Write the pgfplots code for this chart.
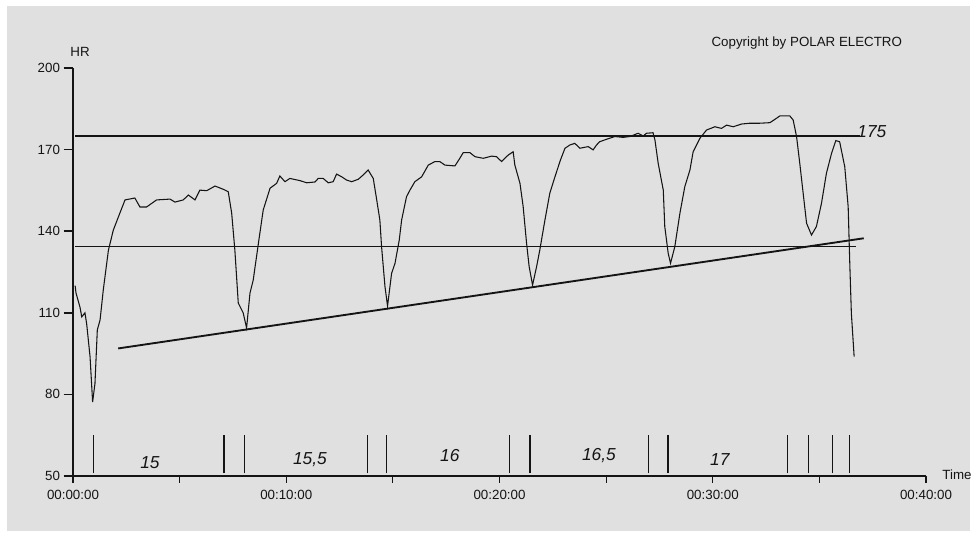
\documentclass[border=0pt]{standalone}
\usepackage{pgfplots}
\pgfplotsset{compat=1.18}
\usepackage{fontspec}
\setmainfont{Liberation Sans}
\definecolor{bg}{RGB}{224,224,224}
\definecolor{ink}{RGB}{20,20,20}
\begin{document}
\begin{tikzpicture}[x=0.75pt,y=0.75pt]
\path[use as bounding box] (0,0) rectangle (973,533);
\fill[bg] (7,2) rectangle (970,527);
\begin{axis}[
  at={(54.75pt,42.75pt)}, anchor=south west,
  scale only axis, width=639.75pt, height=306pt,
  xmin=0, xmax=40, ymin=50, ymax=200,
  axis x line=bottom, axis y line=left,
  axis line style={-, line width=1pt, ink},
  clip=false,
  xtick={0,5,...,40},
  xticklabels={00:00:00,,00:10:00,,00:20:00,,00:30:00,,00:40:00},
  ytick={50,80,...,200},
  tick align=outside,
  xtick style={ink, line width=0.8pt},
  ytick style={ink, line width=1.2pt},
  x tick style={/pgfplots/major tick length=5pt},
  y tick style={/pgfplots/major tick length=7pt},
  tick label style={font=\fontsize{10}{12}\selectfont, text=ink},
  xticklabel style={yshift=-3pt},
  yticklabel style={xshift=-2pt},
  /pgf/number format/assume math mode=true,
  unbounded coords=jump,
]
% reference lines
\addplot[ink, line width=1.1pt] coordinates {(0.1,175) (36.9,175)};
\addplot[ink, line width=1.1pt] coordinates {(0.1,134.3) (36.74,134.3)};
\addplot[ink, line width=1.4pt] coordinates {(2.12,96.9) (37.08,137.4)};
% lap markers
\addplot[ink, line width=0.8pt] coordinates {
(0.94,51) (0.94,65) (0.94,nan)
(7.08,51) (7.08,65) (7.08,nan)
(8.06,51) (8.06,65) (8.06,nan)
(13.83,51) (13.83,65) (13.83,nan)
(14.72,51) (14.72,65) (14.72,nan)
(20.49,51) (20.49,65) (20.49,nan)
(21.43,51) (21.43,65) (21.43,nan)
(27.0,51) (27.0,65) (27.0,nan)
(27.9,51) (27.9,65) (27.9,nan)
(33.5,51) (33.5,65) (33.5,nan)
(34.5,51) (34.5,65) (34.5,nan)
(35.6,51) (35.6,65) (35.6,nan)
(36.4,51) (36.4,65)
};
% heart rate
\addplot[ink, line width=0.8pt] coordinates {
(0.1,120) (0.14,117.3) (0.33,112) (0.41,108.5) (0.56,110) (0.64,106) (0.8,93.8) (0.92,77.2)
(1.03,84) (1.14,103.7) (1.27,107.4) (1.42,118.4) (1.66,133) (1.89,140.4) (2.2,146.7) (2.44,151.5)
(2.9,152.2) (3.14,148.9) (3.45,148.9) (3.92,151.5) (4.55,151.8) (4.78,150.7) (5.17,151.5) (5.41,153.3)
(5.72,151.5) (5.95,155.1) (6.27,154.9) (6.66,156.6) (7.05,155.4) (7.28,154.5) (7.44,146.7) (7.59,133.1)
(7.75,113.6) (7.98,110) (8.14,104.4) (8.30,117.3) (8.45,122) (8.73,137.5) (8.92,147.8) (9.24,155.8)
(9.55,157.6) (9.70,160.3) (9.94,158.2) (10.17,159.4) (10.64,158.6) (10.96,157.8) (11.35,158.1) (11.5,159.4)
(11.73,159.4) (11.97,157.8) (12.2,158.2) (12.36,161) (12.6,160) (12.83,158.8) (13.07,158.2) (13.38,159.1)
(13.61,160.7) (13.84,162.5) (14.08,159.4) (14.23,152.1) (14.39,144.1) (14.47,134.3) (14.63,119.6) (14.75,112.5)
(14.94,124.5) (15.1,128.2) (15.3,136.8) (15.41,144.1) (15.64,152.7) (15.8,155.1) (16.03,158.2) (16.35,160)
(16.66,164.3) (16.97,165.6) (17.2,165.6) (17.44,164.3) (17.91,164) (18.14,166.8) (18.3,168.9) (18.61,168.9)
(18.85,167.4) (19.24,166.8) (19.63,167.6) (19.86,167.4) (20.1,165.6) (20.25,166.8) (20.41,168) (20.64,169.2)
(20.72,164.3) (20.96,157.6) (21.11,149) (21.27,135.5) (21.39,127) (21.55,120.2) (21.74,127) (21.89,133.1)
(22.13,144.1) (22.36,154) (22.6,160) (22.85,166) (23.07,170.5) (23.3,171.7) (23.53,172.3) (23.77,170.5)
(24.16,171.1) (24.39,169.9) (24.55,171.7) (24.7,172.9) (25.02,173.8) (25.41,174.8) (25.8,174.5) (26.11,174.8)
(26.5,176) (26.74,175) (26.89,176) (27.2,176.2) (27.29,173.5) (27.44,165) (27.68,155.1) (27.75,141.7)
(27.91,131.9) (28.02,128.2) (28.22,134.3) (28.46,146.6) (28.69,156.4) (28.93,162.5) (29.08,169.2) (29.4,174.2)
(29.71,177.2) (30.1,178.4) (30.41,177.8) (30.65,179) (30.96,178.4) (31.35,179.4) (31.74,179.7) (32.21,179.7)
(32.68,179.9) (32.91,181.1) (33.15,182.4) (33.61,182.4) (33.77,180.9) (33.93,174.8) (34.08,165) (34.24,153.9)
(34.4,142.9) (34.63,138.6) (34.86,141.7) (35.1,150.3) (35.33,161.3) (35.57,168.6) (35.77,173.3) (35.95,172.9)
(36.19,163.7) (36.35,149) (36.43,127) (36.5,109.8) (36.63,93.9)
};
% texts
\node[font=\fontsize{10}{12}\selectfont, text=ink] at (axis cs:0.33,205.9) {HR};
\node[font=\fontsize{10}{12}\selectfont, text=ink] at (axis cs:34.41,209.2) {Copyright by POLAR ELECTRO};
\node[font=\fontsize{10}{12}\selectfont, text=ink, anchor=west] at (axis cs:40.55,50.5) {Time};
\node[font=\fontsize{13}{15}\selectfont\itshape, text=ink] at (axis cs:3.61,55.1) {15};
\node[font=\fontsize{13}{15}\selectfont\itshape, text=ink] at (axis cs:11.11,55.9) {15,5};
\node[font=\fontsize{13}{15}\selectfont\itshape, text=ink] at (axis cs:17.67,57.7) {16};
\node[font=\fontsize{13}{15}\selectfont\itshape, text=ink] at (axis cs:24.66,57.7) {16,5};
\node[font=\fontsize{13}{15}\selectfont\itshape, text=ink] at (axis cs:30.33,55.9) {17};
\node[font=\fontsize{13}{15}\selectfont\itshape, text=ink] at (axis cs:37.46,176.5) {175};
\end{axis}
\end{tikzpicture}
\end{document}
